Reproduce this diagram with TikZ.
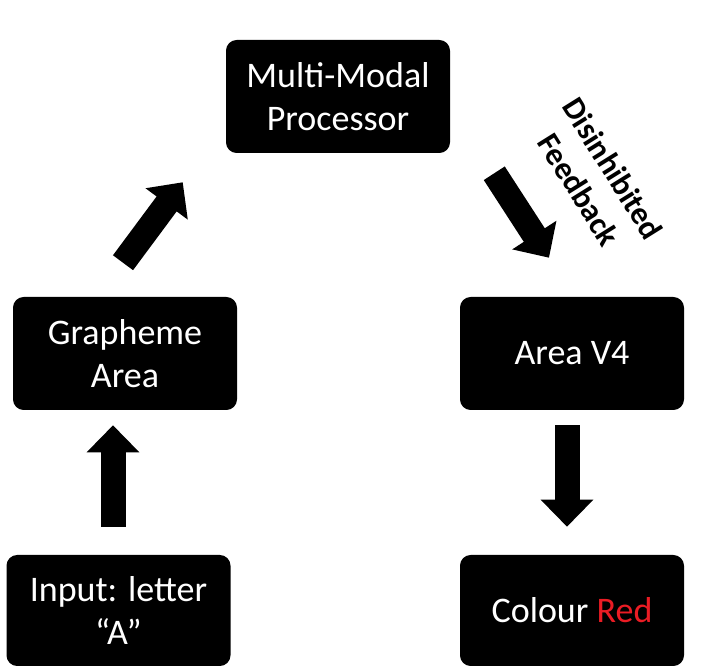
\documentclass[tikz,border=0pt]{standalone}
\usepackage{fontspec}
\setmainfont{Carlito}
\usepackage{xcolor}
\usepackage{tikz}
\usetikzlibrary{arrows.meta,calc}
\definecolor{redtext}{RGB}{235,28,36}
\tikzset{
  areabox/.style={draw=none,fill=black,rounded corners=8pt,text=white,align=center,
    minimum width=168pt,minimum height=84.75pt,inner sep=0pt,
    font=\fontsize{27}{32}\selectfont},
  blockarrow/.style={line width=18.75pt,-{Triangle[length=20.25pt,width=38.25pt]}}
}
\begin{document}
\begin{tikzpicture}[x=0.75pt,y=-0.75pt]
\useasboundingbox (0,0) rectangle (701,666);
\node[areabox] (proc) at (338,96.5) {Multi-Modal\\Processor};
\node[areabox] (graph) at (125,353.5) {Grapheme\\Area};
\node[areabox] (v4) at (572,353.5) {Area V4};
\node[areabox,minimum height=83.25pt] (input) at (118.5,610.5) {Input: letter\\``A''};
\node[areabox,minimum height=83.25pt] (colour) at (572,610.5) {Colour \textcolor{redtext}{Red}};
\draw[blockarrow] ($(input.north)+(-5.5,-28)$) -- ($(graph.south)+(-12,15)$);
\draw[blockarrow] ($(graph.north)+(-2,-34)$) -- ($(proc.south west)+(-43,29)$);
\draw[blockarrow] ($(proc.south east)+(44,20)$) -- ($(v4.north)+(-23,-39)$);
\draw[blockarrow] ($(v4.south)+(-5,15)$) -- ($(colour.north)+(-5,-28)$);
\node[rotate=-58,align=center,inner sep=0pt,font=\bfseries\fontsize{24}{30}\selectfont] (fb) at (596,179) {Disinhibited\\Feedback};
\end{tikzpicture}
\end{document}
